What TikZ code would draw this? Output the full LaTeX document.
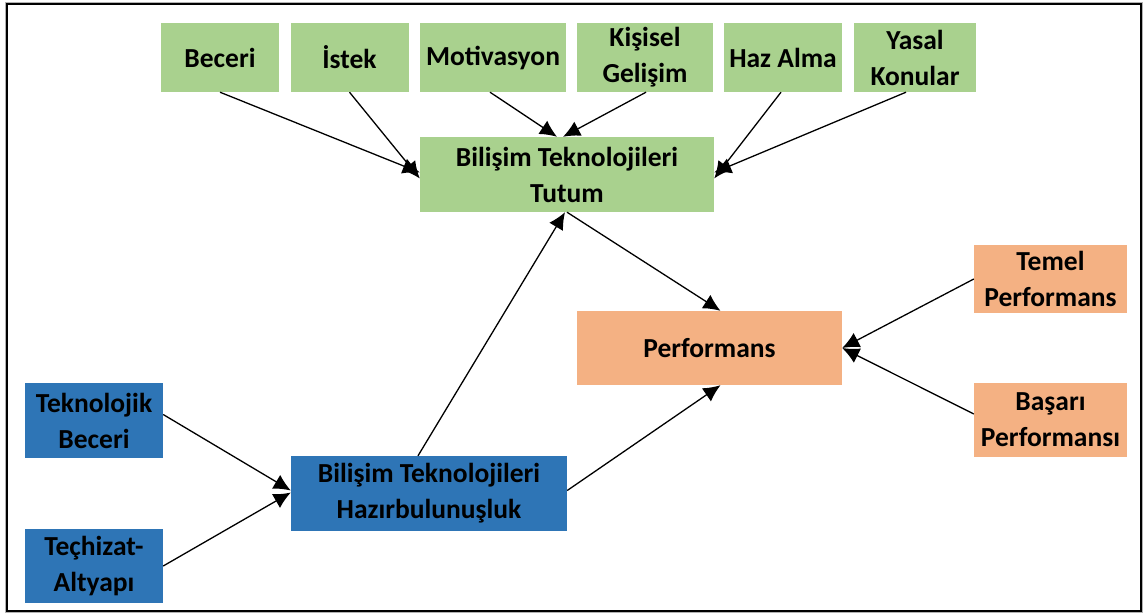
\documentclass[tikz,border=0pt]{standalone}
\usepackage{fontspec}
\setmainfont{Carlito}
\usetikzlibrary{arrows.meta,calc}
\definecolor{boxgreen}{HTML}{A9D18E}
\definecolor{boxorange}{HTML}{F4B183}
\definecolor{boxblue}{HTML}{2E75B6}
\tikzset{
  box/.style={rectangle, inner sep=0pt, align=center, text=black,
    font=\fontsize{27.5}{36}\selectfont\bfseries},
  gbox/.style={box, fill=boxgreen},
  obox/.style={box, fill=boxorange},
  bbox/.style={box, fill=boxblue},
  link/.style={line width=1.3pt, -{Latex[length=17pt,width=16pt]}},
}
\begin{document}
\begin{tikzpicture}[x=1pt,y=-1pt]
\useasboundingbox (0,0) rectangle (1144,614);
% outer frame
\draw[gray!60, line width=1pt] (5.5,2.5) rectangle (1142.5,612.5);
\draw[black, line width=2pt] (7,4) rectangle (1141,611);

% top row: attitude factors
\node[gbox, minimum width=118, minimum height=69] (beceri)  at (220,57.5)   {Beceri};
\node[gbox, minimum width=118, minimum height=69] (istek)   at (349.5,57.5) {İstek};
\node[gbox, minimum width=146, minimum height=69] (motiv)   at (493,57.5)   {Motivasyon};
\node[gbox, minimum width=136, minimum height=69] (kisisel) at (645,57.5)   {Kişisel\\Gelişim};
\node[gbox, minimum width=118, minimum height=69] (haz)     at (783,57.5)   {Haz Alma};
\node[gbox, minimum width=122, minimum height=69] (yasal)   at (915,57.5)   {Yasal\\Konular};

% attitude
\node[gbox, minimum width=294, minimum height=75] (tutum) at (567,174.5) {Bilişim Teknolojileri\\Tutum};

% performance
\node[obox, minimum width=265, minimum height=74] (perf)   at (709.5,348) {Performans};
\node[obox, minimum width=153, minimum height=68] (temel)  at (1050.5,279) {Temel\\Performans};
\node[obox, minimum width=153, minimum height=74] (basari) at (1050.5,420) {Başarı\\Performansı};

% readiness
\node[bbox, minimum width=138, minimum height=75] (teknoloji) at (94,420.5) {Teknolojik\\Beceri};
\node[bbox, minimum width=138, minimum height=74] (techizat)  at (94,566)   {Teçhizat-\\Altyapı};
\node[bbox, minimum width=276, minimum height=75] (hazir)     at (429,493.5) {Bilişim Teknolojileri\\Hazırbulunuşluk};

% factors -> attitude
\draw[link] (beceri.south) -- ($(tutum.west)+(0,-2)$);
\draw[link] (istek.south) -- ($(tutum.west)+(0,4)$);
\draw[link] ($(motiv.south)+(-3,0)$) -- ($(tutum.north)+(-10,0)$);
\draw[link] ($(kisisel.south)+(1,0)$) -- ($(tutum.north)+(-4,0)$);
\draw[link] ($(haz.south)+(-2,0)$) -- ($(tutum.east)+(0,4)$);
\draw[link] ($(yasal.south)+(-9,0)$) -- ($(tutum.east)+(0,-2)$);

% attitude and readiness -> performance
\draw[link] (tutum.south) -- ($(perf.north)+(11,0)$);
\draw[link] ($(hazir.north)+(-11,0)$) -- ($(tutum.south)+(-2,0)$);
\draw[link] ($(hazir.east)+(0,-3)$) -- ($(perf.south)+(11,0)$);

% performance components
\draw[link] (temel.west) -- (perf.east);
\draw[link] ($(basari.west)+(0,-6)$) -- (perf.east);

% readiness components
\draw[link] ($(teknoloji.east)+(0,-6)$) -- ($(hazir.west)+(0,-3)$);
\draw[link] (techizat.east) -- ($(hazir.west)+(0,-1)$);
\end{tikzpicture}
\end{document}
